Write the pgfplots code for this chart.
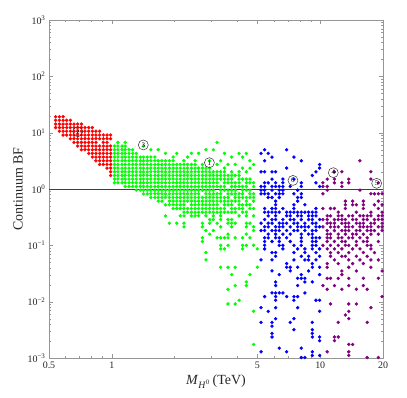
\documentclass[border=0pt]{standalone}
\usepackage{fontspec}
\setmainfont{Liberation Serif}
\usepackage{pgfplots}
\pgfplotsset{compat=1.18}
\definecolor{ptred}{RGB}{255,0,0}
\definecolor{ptgreen}{RGB}{0,255,0}
\definecolor{ptblue}{RGB}{0,0,255}
\definecolor{ptpurple}{RGB}{128,0,128}
\definecolor{framegray}{RGB}{150,150,150}

\begin{document}
\begin{tikzpicture}
\begin{axis}[
    scale only axis, width=334bp, height=338bp,
    xmode=log, ymode=log,
    xmin=0.5, xmax=20, ymin=1e-3, ymax=1e3,
    axis line style={framegray},
    tick style={framegray},
    tick align=inside,
    major tick length=4bp, minor tick length=2bp,
    xtick={0.5,1,5,10,20}, xticklabels={0.5,1,5,10,20},
    minor xtick={0.6,0.7,0.8,0.9,2,3,4,6,7,8,9},
    ytick={0.001,0.01,0.1,1,10,100,1000},
    yticklabels={10\textsuperscript{−3},10\textsuperscript{−2},10\textsuperscript{−1},10\textsuperscript{0},10\textsuperscript{1},10\textsuperscript{2},10\textsuperscript{3}},
    minor ytick={0.002,0.003,0.004,0.005,0.006,0.007,0.008,0.009,
                 0.02,0.03,0.04,0.05,0.06,0.07,0.08,0.09,
                 0.2,0.3,0.4,0.5,0.6,0.7,0.8,0.9,
                 2,3,4,5,6,7,8,9,20,30,40,50,60,70,80,90,
                 200,300,400,500,600,700,800,900},
    ticklabel style={font=\fontsize{10}{12}\selectfont, text=black!85},
    label style={font=\fontsize{14}{16}\selectfont, text=black!85},
    xlabel={\textit{M}\textsubscript{\textit{H}\textsuperscript{0}}\,(TeV)},
    ylabel={Continuum BF},
    ylabel style={yshift=-2bp},
    dots/.style={only marks, mark=*, mark size=1.5bp, draw=#1, fill=#1, mark options={draw=#1, fill=#1}},
]
% red: M < 1 TeV
\addplot[dots=ptred] coordinates {
(0.538,19.2)(0.538,16.6)(0.538,14.2)(0.538,12.3)
(0.561,19.2)(0.561,16.6)(0.561,14.2)(0.561,12.3)(0.561,10.6)
(0.584,19.2)(0.584,16.6)(0.584,14.2)(0.584,12.3)(0.584,10.6)(0.584,9.08)
(0.608,16.6)(0.608,14.2)(0.608,12.3)(0.608,10.6)(0.608,9.08)
(0.633,16.6)(0.633,14.2)(0.633,12.3)(0.633,10.6)(0.633,9.08)(0.633,7.81)
(0.659,14.2)(0.659,12.3)(0.659,10.6)(0.659,9.08)(0.659,7.81)(0.659,6.72)
(0.686,14.2)(0.686,12.3)(0.686,10.6)(0.686,9.08)(0.686,7.81)(0.686,6.72)(0.686,5.79)
(0.715,14.2)(0.715,12.3)(0.715,10.6)(0.715,9.08)(0.715,7.81)(0.715,6.72)(0.715,5.79)(0.715,4.98)
(0.744,12.3)(0.744,10.6)(0.744,9.08)(0.744,7.81)(0.744,6.72)(0.744,5.79)(0.744,4.98)
(0.775,12.3)(0.775,10.6)(0.775,9.08)(0.775,7.81)(0.775,6.72)(0.775,5.79)(0.775,4.98)(0.775,4.29)
(0.807,12.3)(0.807,10.6)(0.807,9.08)(0.807,7.81)(0.807,6.72)(0.807,5.79)(0.807,4.98)(0.807,4.29)(0.807,3.69)
(0.840,10.6)(0.840,9.08)(0.840,7.81)(0.840,6.72)(0.840,5.79)(0.840,4.98)(0.840,4.29)(0.840,3.69)(0.840,3.17)
(0.875,10.6)(0.875,9.08)(0.875,7.81)(0.875,5.79)(0.875,4.98)(0.875,4.29)(0.875,3.69)(0.875,3.17)(0.875,2.73)
(0.911,9.08)(0.911,7.81)(0.911,6.72)(0.911,5.79)(0.911,4.98)(0.911,4.29)(0.911,3.69)(0.911,3.17)(0.911,2.73)
(0.949,9.08)(0.949,7.81)(0.949,6.72)(0.949,5.79)(0.949,4.98)(0.949,4.29)(0.949,3.69)(0.949,3.17)(0.949,2.73)(0.949,2.35)
(0.988,9.08)(0.988,7.81)(0.988,5.79)(0.988,4.98)(0.988,4.29)(0.988,3.69)(0.988,3.17)(0.988,2.73)(0.988,2.35)(0.988,2.02)(0.988,1.74)
};
% green: 1 - 5 TeV
\addplot[dots=ptgreen] coordinates {
(1.03,5.79)(1.03,4.98)(1.03,4.29)(1.03,3.69)(1.03,3.17)(1.03,2.73)(1.03,2.35)(1.03,2.02)(1.03,1.74)(1.03,1.50)(1.03,1.29)
(1.07,5.79)(1.07,4.98)(1.07,4.29)(1.07,3.69)(1.07,3.17)(1.07,2.73)(1.07,2.35)(1.07,2.02)(1.07,1.74)(1.07,1.50)(1.07,1.29)
(1.12,5.79)(1.12,4.98)(1.12,4.29)(1.12,3.69)(1.12,3.17)(1.12,2.73)(1.12,2.35)(1.12,2.02)(1.12,1.74)(1.12,1.50)(1.12,1.29)
(1.16,5.79)(1.16,4.98)(1.16,4.29)(1.16,3.69)(1.16,3.17)(1.16,2.73)(1.16,2.35)(1.16,2.02)(1.16,1.74)(1.16,1.50)(1.16,1.29)(1.16,1.11)
(1.21,4.98)(1.21,4.29)(1.21,3.69)(1.21,3.17)(1.21,2.73)(1.21,2.35)(1.21,2.02)(1.21,1.74)(1.21,1.50)(1.21,1.29)(1.21,1.11)
(1.26,4.98)(1.26,4.29)(1.26,3.69)(1.26,3.17)(1.26,2.73)(1.26,2.35)(1.26,2.02)(1.26,1.74)(1.26,1.50)(1.26,1.29)(1.26,1.11)
(1.31,4.29)(1.31,3.69)(1.31,3.17)(1.31,2.73)(1.31,2.35)(1.31,2.02)(1.31,1.74)(1.31,1.50)(1.31,1.29)(1.31,1.11)(1.31,0.955)
(1.37,3.69)(1.37,3.17)(1.37,2.73)(1.37,2.35)(1.37,2.02)(1.37,1.74)(1.37,1.50)(1.37,1.29)(1.37,1.11)(1.37,0.955)
(1.42,3.69)(1.42,3.17)(1.42,2.73)(1.42,2.35)(1.42,2.02)(1.42,1.74)(1.42,1.50)(1.42,1.29)(1.42,1.11)(1.42,0.955)(1.42,0.822)
(1.48,3.69)(1.48,3.17)(1.48,2.73)(1.48,2.35)(1.48,2.02)(1.48,1.74)(1.48,1.50)(1.48,1.29)(1.48,1.11)(1.48,0.955)(1.48,0.822)
(1.54,3.69)(1.54,3.17)(1.54,2.73)(1.54,2.35)(1.54,2.02)(1.54,1.74)(1.54,1.50)(1.54,1.29)(1.54,1.11)(1.54,0.955)(1.54,0.822)(1.54,0.707)
(1.61,3.69)(1.61,3.17)(1.61,2.73)(1.61,2.35)(1.61,2.02)(1.61,1.74)(1.61,1.50)(1.61,1.29)(1.61,1.11)(1.61,0.955)(1.61,0.822)(1.61,0.707)
(1.67,3.17)(1.67,2.73)(1.67,2.35)(1.67,2.02)(1.67,1.74)(1.67,1.50)(1.67,1.29)(1.67,1.11)(1.67,0.955)(1.67,0.822)(1.67,0.707)(1.67,0.609)
(1.74,3.17)(1.74,2.73)(1.74,2.35)(1.74,2.02)(1.74,1.74)(1.74,1.50)(1.74,1.29)(1.74,1.11)(1.74,0.955)(1.74,0.822)(1.74,0.707)(1.74,0.609)
(1.81,3.17)(1.81,2.73)(1.81,2.35)(1.81,2.02)(1.81,1.74)(1.81,1.50)(1.81,1.29)(1.81,1.11)(1.81,0.955)(1.81,0.822)(1.81,0.707)(1.81,0.524)
(1.89,3.17)(1.89,2.73)(1.89,2.35)(1.89,2.02)(1.89,1.74)(1.89,1.50)(1.89,1.29)(1.89,1.11)(1.89,0.955)(1.89,0.822)(1.89,0.707)(1.89,0.609)(1.89,0.524)
(1.97,3.17)(1.97,2.73)(1.97,2.35)(1.97,2.02)(1.97,1.74)(1.97,1.50)(1.97,1.29)(1.97,1.11)(1.97,0.955)(1.97,0.822)(1.97,0.707)(1.97,0.609)(1.97,0.524)(1.97,0.451)
(2.05,2.73)(2.05,2.35)(2.05,2.02)(2.05,1.74)(2.05,1.50)(2.05,1.29)(2.05,1.11)(2.05,0.955)(2.05,0.822)(2.05,0.707)(2.05,0.609)(2.05,0.524)(2.05,0.451)
(2.13,2.73)(2.13,2.35)(2.13,2.02)(2.13,1.74)(2.13,1.50)(2.13,1.29)(2.13,1.11)(2.13,0.955)(2.13,0.822)(2.13,0.707)(2.13,0.609)(2.13,0.524)(2.13,0.451)
(2.22,2.73)(2.22,2.35)(2.22,2.02)(2.22,1.74)(2.22,1.50)(2.22,1.29)(2.22,1.11)(2.22,0.955)(2.22,0.822)(2.22,0.707)(2.22,0.609)(2.22,0.524)(2.22,0.451)(2.22,0.388)
(2.31,2.73)(2.31,2.35)(2.31,2.02)(2.31,1.74)(2.31,1.50)(2.31,1.29)(2.31,1.11)(2.31,0.955)(2.31,0.822)(2.31,0.707)(2.31,0.609)(2.31,0.451)(2.31,0.388)
(2.41,2.73)(2.41,2.35)(2.41,2.02)(2.41,1.74)(2.41,1.50)(2.41,1.29)(2.41,1.11)(2.41,0.955)(2.41,0.822)(2.41,0.707)(2.41,0.609)(2.41,0.524)(2.41,0.451)(2.41,0.388)
(2.51,2.73)(2.51,2.35)(2.51,2.02)(2.51,1.74)(2.51,1.50)(2.51,1.29)(2.51,1.11)(2.51,0.955)(2.51,0.822)(2.51,0.707)(2.51,0.609)(2.51,0.524)(2.51,0.451)(2.51,0.388)
(2.61,2.35)(2.61,2.02)(2.61,1.74)(2.61,1.50)(2.61,1.29)(2.61,1.11)(2.61,0.955)(2.61,0.822)(2.61,0.707)(2.61,0.609)(2.61,0.524)(2.61,0.451)(2.61,0.388)
(2.72,2.35)(2.72,2.02)(2.72,1.74)(2.72,1.50)(2.72,1.29)(2.72,1.11)(2.72,0.955)(2.72,0.707)(2.72,0.609)(2.72,0.524)(2.72,0.451)(2.72,0.388)
(2.83,2.35)(2.83,2.02)(2.83,1.74)(2.83,1.50)(2.83,1.29)(2.83,1.11)(2.83,0.955)(2.83,0.822)(2.83,0.707)(2.83,0.609)(2.83,0.524)(2.83,0.451)(2.83,0.388)
(2.95,2.35)(2.95,2.02)(2.95,1.74)(2.95,1.50)(2.95,1.29)(2.95,1.11)(2.95,0.955)(2.95,0.822)(2.95,0.707)(2.95,0.609)(2.95,0.524)(2.95,0.451)(2.95,0.388)
(3.07,2.02)(3.07,1.74)(3.07,1.50)(3.07,1.29)(3.07,1.11)(3.07,0.955)(3.07,0.822)(3.07,0.707)(3.07,0.609)(3.07,0.524)(3.07,0.451)(3.07,0.388)
(3.20,2.02)(3.20,1.74)(3.20,1.50)(3.20,1.29)(3.20,1.11)(3.20,0.822)(3.20,0.707)(3.20,0.609)(3.20,0.524)(3.20,0.451)(3.20,0.388)
(3.33,2.02)(3.33,1.74)(3.33,1.50)(3.33,1.11)(3.33,0.955)(3.33,0.822)(3.33,0.707)(3.33,0.609)(3.33,0.451)(3.33,0.388)
(3.47,2.02)(3.47,1.74)(3.47,1.50)(3.47,1.29)(3.47,1.11)(3.47,0.955)(3.47,0.707)(3.47,0.609)(3.47,0.524)(3.47,0.451)(3.47,0.388)
(3.61,1.74)(3.61,1.50)(3.61,1.29)(3.61,0.955)(3.61,0.822)(3.61,0.707)(3.61,0.609)(3.61,0.524)(3.61,0.388)
(3.76,1.74)(3.76,1.50)(3.76,1.29)(3.76,1.11)(3.76,0.955)(3.76,0.822)(3.76,0.609)(3.76,0.524)(3.76,0.451)(3.76,0.388)
(3.91,1.74)(3.91,1.29)(3.91,1.11)(3.91,0.955)(3.91,0.822)(3.91,0.707)(3.91,0.609)(3.91,0.451)(3.91,0.388)
(4.08,1.74)(4.08,1.50)(4.08,1.29)(4.08,1.11)(4.08,0.822)(4.08,0.707)(4.08,0.609)(4.08,0.524)(4.08,0.451)
(4.24,1.50)(4.24,1.11)(4.24,0.955)(4.24,0.822)(4.24,0.707)(4.24,0.524)(4.24,0.451)(4.24,0.388)
(4.42,1.50)(4.42,1.29)(4.42,1.11)(4.42,0.955)(4.42,0.707)(4.42,0.609)(4.42,0.524)(4.42,0.388)
(4.60,1.50)(4.60,1.29)(4.60,0.955)(4.60,0.822)(4.60,0.707)(4.60,0.524)(4.60,0.451)
(4.79,1.29)(4.79,1.11)(4.79,0.822)(4.79,0.707)(4.79,0.609)(4.79,0.451)
(1.07,6.72)(1.16,6.72)(3.20,6.72)(1.42,5.79)
(1.54,4.98)(1.67,4.98)(2.83,4.98)(3.07,4.98)
(1.81,4.29)(2.05,4.29)(2.41,4.29)(2.61,4.29)(3.47,4.29)(4.08,4.29)(4.42,4.29)
(1.97,3.69)(2.31,3.69)(3.76,3.69)(4.24,3.69)
(2.22,3.17)(2.51,3.17)(2.95,3.17)(3.33,3.17)(4.60,3.17)
(2.72,2.73)(3.20,2.73)(3.61,2.73)(3.91,2.73)(4.79,2.73)
(3.47,2.35)(4.24,2.35)(4.60,2.35)
(3.76,2.02)(4.08,2.02)(4.42,2.02)
(1.81,0.334)(2.13,0.334)(2.22,0.334)(2.41,0.334)(2.51,0.334)(2.61,0.334)(2.83,0.334)(3.07,0.334)(3.33,0.334)(4.08,0.334)(4.42,0.334)(4.79,0.334)
(2.95,0.287)(3.07,0.287)(3.33,0.287)(3.61,0.287)(3.76,0.287)
(1.89,0.247)(2.05,0.247)(2.22,0.247)(2.72,0.247)(2.95,0.247)(3.20,0.247)(3.61,0.247)(3.76,0.247)(3.91,0.247)(4.42,0.247)(4.60,0.247)
(2.22,0.213)(2.72,0.213)(3.33,0.213)(3.76,0.213)(4.42,0.213)(4.79,0.213)
(2.83,0.183)(3.07,0.183)(4.79,0.183)
(2.95,0.158)(3.61,0.158)(4.42,0.158)
(2.72,0.136)(3.20,0.136)(3.33,0.136)(3.47,0.136)(3.61,0.136)(3.91,0.136)(4.24,0.136)(4.60,0.136)
(2.72,0.117)
(3.33,0.100)(3.61,0.100)(4.24,0.100)(4.42,0.100)(4.79,0.100)
(3.33,0.0865)(3.47,0.0865)(4.24,0.0865)(4.99,0.0865)
(2.83,0.0744)(2.83,0.0551)
(3.33,0.0408)(3.61,0.0408)(3.91,0.0408)(4.99,0.0408)
(3.76,0.0302)(4.60,0.0302)(4.42,0.0224)(3.91,0.0193)(4.42,0.0193)(3.61,0.0166)
(4.08,0.0106)(3.61,0.0091)(3.91,0.0091)(4.79,0.00674)(4.79,0.00174)
};
% blue: 5 - 10 TeV
\addplot[dots=ptblue] coordinates {
(5.41,4.98)(6.90,4.98)
(5.20,4.29)(5.63,4.29)
(5.87,3.69)(7.48,3.69)
(5.41,3.17)(8.11,3.17)
(9.93,2.73)
(6.90,2.35)(9.93,2.35)
(5.20,2.02)(5.41,2.02)(5.87,2.02)(6.11,2.02)(9.54,2.02)
(9.16,1.74)
(5.87,1.50)(6.62,1.50)(7.48,1.50)
(5.41,1.29)(5.63,1.29)(6.11,1.29)(6.62,1.29)(8.11,1.29)(9.54,1.29)
(5.20,1.11)(5.41,1.11)(5.87,1.11)(6.11,1.11)(6.36,1.11)(6.62,1.11)(7.18,1.11)(8.11,1.11)(9.93,1.11)
(5.20,0.955)(5.41,0.955)(5.87,0.955)(6.36,0.955)(6.62,0.955)(7.79,0.955)
(5.20,0.822)(5.41,0.822)(5.63,0.822)(6.11,0.822)(6.36,0.822)(6.62,0.822)(7.48,0.822)(8.11,0.822)
(5.63,0.707)(5.87,0.707)(6.36,0.707)(7.79,0.707)(8.11,0.707)
(6.11,0.609)(7.79,0.609)
(6.11,0.524)(7.48,0.524)(8.44,0.524)
(5.41,0.451)(5.87,0.451)(6.11,0.451)(6.62,0.451)(7.48,0.451)(9.54,0.451)
(5.41,0.388)(5.63,0.388)(5.87,0.388)(6.11,0.388)(6.36,0.388)(6.90,0.388)(7.18,0.388)(7.48,0.388)(7.79,0.388)(8.11,0.388)(8.44,0.388)(8.79,0.388)(9.16,0.388)(9.54,0.388)
(5.63,0.334)(6.11,0.334)(6.90,0.334)(7.18,0.334)(7.79,0.334)(8.11,0.334)(8.79,0.334)(9.16,0.334)(9.54,0.334)
(5.41,0.287)(5.87,0.287)(6.11,0.287)(6.62,0.287)(7.18,0.287)(7.48,0.287)(8.11,0.287)(8.79,0.287)(9.16,0.287)(9.93,0.287)
(5.20,0.247)(5.63,0.247)(5.87,0.247)(6.36,0.247)(6.62,0.247)(6.90,0.247)(7.48,0.247)(7.79,0.247)(8.44,0.247)(9.16,0.247)(9.54,0.247)
(5.41,0.213)(5.63,0.213)(6.11,0.213)(6.36,0.213)(6.62,0.213)(7.18,0.213)(7.79,0.213)(8.11,0.213)(8.44,0.213)(8.79,0.213)(9.54,0.213)(9.93,0.213)
(5.20,0.183)(5.41,0.183)(5.87,0.183)(6.11,0.183)(6.36,0.183)(6.90,0.183)(7.48,0.183)(7.79,0.183)(8.44,0.183)(9.16,0.183)(9.54,0.183)
(5.63,0.158)(6.11,0.158)(6.62,0.158)(7.18,0.158)(8.11,0.158)(8.79,0.158)(9.16,0.158)
(5.41,0.136)(5.63,0.136)(6.11,0.136)(6.36,0.136)(6.90,0.136)(8.11,0.136)(9.16,0.136)(9.54,0.136)(9.93,0.136)
(5.41,0.117)(5.87,0.117)(6.36,0.117)(7.18,0.117)(8.11,0.117)(9.16,0.117)(9.54,0.117)
(5.41,0.100)(6.36,0.100)(6.62,0.100)(7.48,0.100)(8.11,0.100)(9.16,0.100)(9.54,0.100)
(5.41,0.0865)(6.62,0.0865)(7.79,0.0865)(8.44,0.0865)(9.16,0.0865)(9.93,0.0865)
(5.87,0.0744)(6.11,0.0744)(7.48,0.0744)(8.44,0.0744)(9.54,0.0744)
(6.11,0.0640)(8.11,0.0640)(8.79,0.0640)(9.93,0.0640)
(5.20,0.0551)(5.87,0.0551)(7.48,0.0551)(8.44,0.0551)(8.79,0.0551)(9.54,0.0551)
(6.90,0.0474)(9.16,0.0474)
(6.90,0.0408)(7.18,0.0408)(7.79,0.0408)(9.16,0.0408)(9.93,0.0408)
(5.87,0.0351)(7.18,0.0351)(8.79,0.0351)
(6.36,0.0302)(8.11,0.0302)(9.93,0.0302)
(7.79,0.0260)(8.11,0.0260)(8.44,0.0260)
(6.11,0.0224)(8.44,0.0224)(9.16,0.0224)
(6.11,0.0193)(7.79,0.0193)
(5.87,0.0143)(6.11,0.0143)(6.36,0.0143)(6.62,0.0143)(8.44,0.0143)
(5.41,0.0123)(6.11,0.0123)(6.90,0.0123)(7.48,0.0123)(7.79,0.0123)
(6.11,0.0106)(7.48,0.0106)(9.54,0.0106)(9.93,0.0106)
(5.20,0.00783)(6.11,0.00783)(7.79,0.00783)
(5.63,0.00674)(9.93,0.00674)
(6.11,0.00499)(7.48,0.00499)
(5.20,0.00429)(5.87,0.00429)(7.18,0.00429)(9.16,0.00429)
(5.87,0.00369)
(7.48,0.00318)(9.16,0.00318)
(5.87,0.00274)(9.16,0.00274)
(5.87,0.00236)(9.16,0.00236)(9.93,0.00236)
(9.93,0.00203)
(6.36,0.00150)(8.11,0.00150)
(5.20,0.00129)(6.90,0.00129)(9.16,0.00129)
(9.16,0.00111)(9.93,0.00111)
(8.11,0.00102)(8.44,0.00102)
};
% purple: 10 - 20 TeV
\addplot[dots=ptpurple] coordinates {
(15.5,3.17)
(11.7,2.02)(12.7,2.02)(17.5,2.02)
(10.8,1.50)(11.7,1.50)(13.7,1.50)(17.5,1.50)
(10.3,1.29)(11.7,1.29)(12.7,1.29)(13.7,1.29)(19.0,1.29)
(10.3,1.11)(10.8,1.11)(12.7,1.11)
(10.8,0.955)(15.5,0.955)
(10.3,0.822)(17.5,0.822)(18.2,0.822)(19.0,0.822)(19.8,0.822)
(13.2,0.609)(14.3,0.609)(16.1,0.609)(19.0,0.609)
(13.2,0.524)(14.3,0.524)(14.9,0.524)(16.1,0.524)(18.2,0.524)(19.8,0.524)
(10.3,0.451)(11.2,0.451)(11.7,0.451)(13.2,0.451)(16.1,0.451)(19.0,0.451)
(12.2,0.388)(14.9,0.388)(17.5,0.388)(19.8,0.388)
(10.8,0.334)(11.2,0.334)(12.2,0.334)(12.7,0.334)(13.7,0.334)(14.3,0.334)(15.5,0.334)(16.1,0.334)(16.8,0.334)(17.5,0.334)(19.0,0.334)(19.8,0.334)
(10.3,0.287)(10.8,0.287)(11.7,0.287)(12.2,0.287)(12.7,0.287)(13.2,0.287)(14.3,0.287)(14.9,0.287)(16.1,0.287)(16.8,0.287)(18.2,0.287)(19.0,0.287)(19.8,0.287)
(10.8,0.247)(11.2,0.247)(11.7,0.247)(12.7,0.247)(13.2,0.247)(13.7,0.247)(14.9,0.247)(15.5,0.247)(16.1,0.247)(17.5,0.247)(18.2,0.247)(19.8,0.247)
(10.3,0.213)(11.2,0.213)(11.7,0.213)(12.2,0.213)(13.2,0.213)(13.7,0.213)(14.3,0.213)(15.5,0.213)(16.1,0.213)(16.8,0.213)(17.5,0.213)(19.0,0.213)(19.8,0.213)
(10.8,0.183)(11.7,0.183)(12.7,0.183)(13.2,0.183)(13.7,0.183)(14.9,0.183)(15.5,0.183)(16.8,0.183)(17.5,0.183)(18.2,0.183)(19.8,0.183)
(10.8,0.158)(11.2,0.158)(12.2,0.158)(13.2,0.158)(14.3,0.158)(14.9,0.158)(16.1,0.158)(17.5,0.158)(19.0,0.158)
(10.8,0.136)(11.2,0.136)(12.2,0.136)(12.7,0.136)(13.7,0.136)(14.3,0.136)(15.5,0.136)(16.8,0.136)
(10.8,0.117)(11.7,0.117)(12.7,0.117)(13.2,0.117)(14.9,0.117)(16.1,0.117)(16.8,0.117)(19.0,0.117)
(10.3,0.100)(11.2,0.100)(12.2,0.100)(13.2,0.100)(13.7,0.100)(14.9,0.100)(16.8,0.100)(17.5,0.100)
(10.8,0.0865)(11.7,0.0865)(12.7,0.0865)(14.3,0.0865)(15.5,0.0865)(17.5,0.0865)
(11.2,0.0744)(12.2,0.0744)(13.7,0.0744)(16.1,0.0744)(18.2,0.0744)
(11.2,0.0640)(12.7,0.0640)(13.2,0.0640)(14.9,0.0640)(16.8,0.0640)
(11.7,0.0551)(13.7,0.0551)(15.5,0.0551)(17.5,0.0551)(19.0,0.0551)
(10.8,0.0474)(12.2,0.0474)(14.3,0.0474)(16.1,0.0474)
(10.8,0.0408)(13.7,0.0408)(17.5,0.0408)
(12.7,0.0351)(14.9,0.0351)(19.8,0.0351)
(12.7,0.0302)
(10.8,0.0260)(11.2,0.0260)(12.2,0.0260)(13.7,0.0260)(16.1,0.0260)(19.0,0.0260)
(10.3,0.0193)(11.7,0.0193)(13.7,0.0193)(16.1,0.0193)
(10.8,0.0166)(12.7,0.0166)(14.9,0.0166)(16.8,0.0166)
(19.8,0.0123)
(11.2,0.0091)(13.7,0.0091)(14.9,0.0091)
(17.5,0.00783)(13.7,0.00674)(13.2,0.00580)(13.7,0.00499)
(12.2,0.00429)(16.8,0.00429)
(11.7,0.00236)(12.2,0.00236)(11.7,0.00203)
(13.7,0.00174)(14.3,0.00174)
(10.8,0.00129)(13.7,0.00129)(13.7,0.00111)
(16.8,0.00102)(19.0,0.00102)
};
% reference line BF = 1
\addplot[black!75, line width=0.6pt] coordinates {(0.5,1) (20,1)};
% circled benchmark labels
\addplot[only marks, mark=o, mark size=5bp, draw=black!80, mark options={draw=black!80, line width=0.5pt},
    point meta=explicit symbolic, nodes near coords, nodes near coords align={center},
    every node near coord/.append style={anchor=center, inner sep=0pt,
        font=\fontsize{7}{7}\selectfont, text=black}]
    coordinates {(0.687,10.4) [2] (1.417,6.05) [3] (2.94,2.93) [1]
                 (7.40,1.42) [6] (11.55,1.95) [4] (18.65,1.26) [5]};
\end{axis}
\pgfresetboundingbox
\path[use as bounding box] ([shift={(-49bp,-40bp)}]current axis.south west)
    rectangle ([shift={(24bp,20bp)}]current axis.north east);
\end{tikzpicture}
\end{document}
